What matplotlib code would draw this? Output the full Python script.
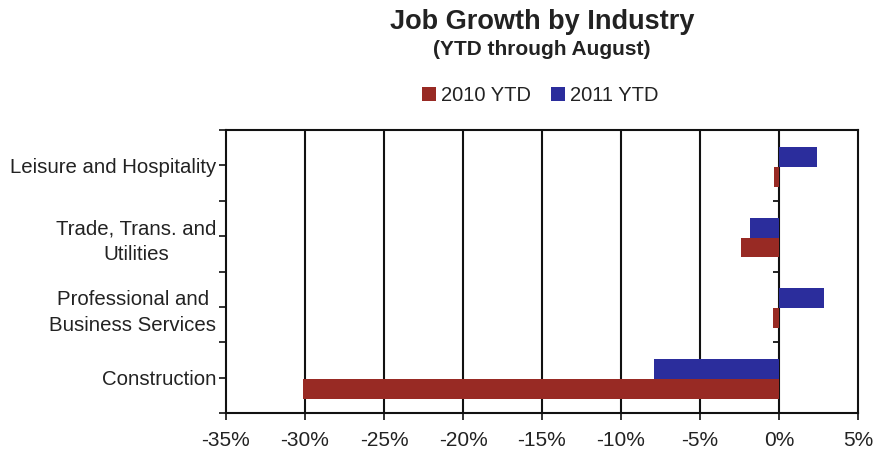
import matplotlib
matplotlib.use("Agg")
import matplotlib.pyplot as plt
import numpy as np

categories = ["Leisure and Hospitality", "Trade, Trans. and\nUtilities",
              "Professional and\nBusiness Services", "Construction"]
series_names = ["2010 YTD", "2011 YTD"]
values_2010 = [-0.3, -2.4, -0.35, -30.1]
values_2011 = [2.4, -1.85, 2.85, -7.9]
xticks = [-35, -30, -25, -20, -15, -10, -5, 0, 5]

red = "#982a24"
blue = "#2b2d9c"
txt = "#222222"

plt.rcParams['font.family'] = ['Liberation Sans', 'DejaVu Sans']

fig = plt.figure(figsize=(8.93, 4.5), dpi=100)
ax = fig.add_axes([226/893, 1-413/450, (858-226)/893, (413-130)/450])

n = len(categories)
y = np.arange(n)
h = 0.28
ax.barh(y + h/2 + 0.02, values_2010, height=h, color=red, label=series_names[0], zorder=3)
ax.barh(y - h/2 + 0.02, values_2011, height=h, color=blue, label=series_names[1], zorder=3)

ax.set_ylim(n - 0.5, -0.5)
ax.set_xlim(xticks[0], xticks[-1])
ax.set_xticks(xticks)
ax.set_xticklabels([f"{t}%" for t in xticks], fontsize=15, color=txt)
ax.set_yticks(y)
ax.set_yticklabels(categories, fontsize=14.7, color=txt, linespacing=1.45)
for lab in ax.get_yticklabels():
    lab.set_multialignment('center')
ax.set_yticks(np.arange(n + 1) - 0.5, minor=True)
ax.tick_params(axis='y', which='both', direction='out', length=5, width=1.3, color='#222222', pad=2)
ax.tick_params(axis='x', direction='out', length=5, width=1.3, color='#222222', pad=8)

for t in xticks[1:-1]:
    ax.axvline(t, color='#111111', lw=1.5, zorder=1)
# category axis tick marks at 0
for b in np.arange(1, n) - 0.5:
    ax.hlines(b, -0.35, 0, color='#111111', lw=1.3, zorder=2)

for s in ax.spines.values():
    s.set_linewidth(1.5)
    s.set_color('#111111')

fig.text(0.607, 0.952, "Job Growth by Industry", ha='center', va='center',
         fontsize=19.5, fontweight='bold', color=txt)
fig.text(0.607, 0.891, "(YTD through August)", ha='center', va='center',
         fontsize=15, fontweight='bold', color=txt)
fig.legend(loc='center', bbox_to_anchor=(0.605, 0.788), ncol=2, frameon=False,
           fontsize=14.5, handlelength=0.7, handleheight=0.7, handletextpad=0.25,
           columnspacing=1.0, labelcolor=txt)

fig.savefig("out.png", dpi=100)
